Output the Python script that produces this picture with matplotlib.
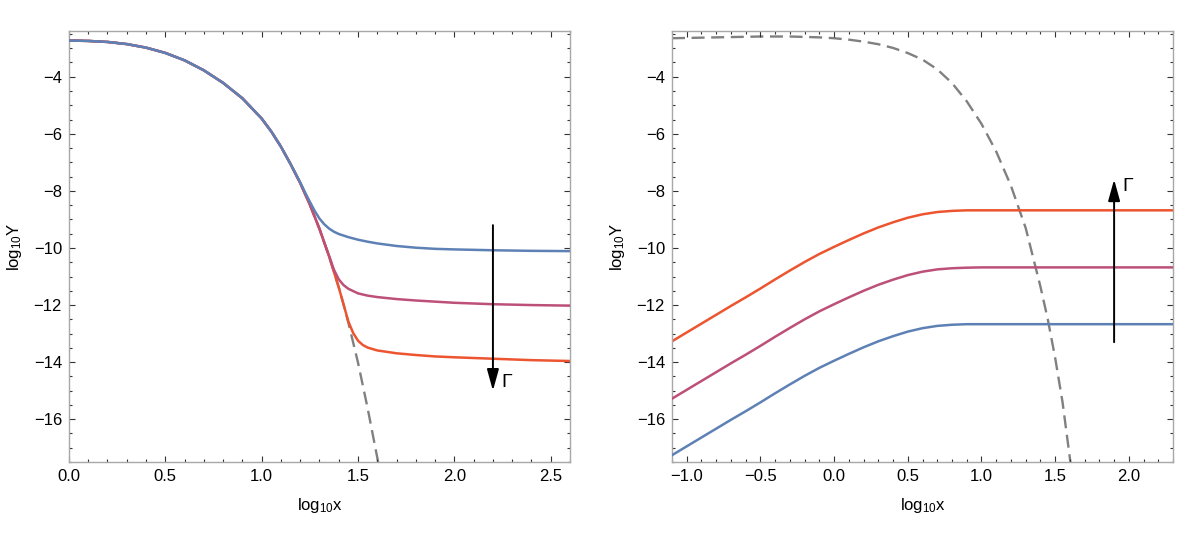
import matplotlib
matplotlib.use('Agg')
import matplotlib.pyplot as plt
from matplotlib.ticker import MultipleLocator, FuncFormatter

plt.rcParams['font.family'] = ['Liberation Sans', 'DejaVu Sans']
plt.rcParams['mathtext.default'] = 'regular'

# ---------------- data ----------------
# left panel: common decaying curve (gray dashed)
left_base_x = [0.0, 0.1, 0.2, 0.3, 0.4, 0.5, 0.6, 0.7, 0.8, 0.9, 1.0, 1.05, 1.1, 1.15,
               1.2, 1.25, 1.3, 1.35, 1.4, 1.425, 1.45, 1.5, 1.55, 1.6, 1.62]
left_base_y = [-2.73, -2.745, -2.78, -2.855, -2.98, -3.165, -3.425, -3.775, -4.215, -4.755, -5.465, -5.92,
               -6.45, -7.06, -7.725, -8.48, -9.33, -10.30, -11.38, -11.98, -12.62, -14.02, -15.62, -17.35, -18.05]

left_blue_x = [0.0, 0.1, 0.2, 0.3, 0.4, 0.5, 0.6, 0.7, 0.8, 0.9, 1.0, 1.05, 1.1, 1.15,
               1.2, 1.225, 1.25, 1.275, 1.3, 1.325, 1.35, 1.375, 1.4, 1.45, 1.5, 1.55, 1.6,
               1.7, 1.8, 1.9, 2.0, 2.2, 2.4, 2.6]
left_blue_y = [-2.73, -2.745, -2.78, -2.855, -2.98, -3.165, -3.425, -3.775, -4.215, -4.755, -5.465, -5.92,
               -6.45, -7.06, -7.70, -8.05, -8.38, -8.70, -8.97, -9.17, -9.32, -9.43, -9.51, -9.62, -9.71,
               -9.78, -9.84, -9.93, -9.99, -10.03, -10.05, -10.08, -10.10, -10.11]

left_mag_x = [0.0, 0.1, 0.2, 0.3, 0.4, 0.5, 0.6, 0.7, 0.8, 0.9, 1.0, 1.05, 1.1, 1.15,
              1.2, 1.25, 1.3, 1.35, 1.375, 1.4, 1.425, 1.45, 1.5, 1.55, 1.6,
              1.7, 1.8, 1.9, 2.0, 2.2, 2.4, 2.6]
left_mag_y = [-2.73, -2.745, -2.78, -2.855, -2.98, -3.165, -3.425, -3.775, -4.215, -4.755, -5.465, -5.92,
              -6.45, -7.06, -7.725, -8.48, -9.33, -10.28, -10.76, -11.10, -11.30, -11.43, -11.59, -11.67,
              -11.72, -11.79, -11.84, -11.88, -11.92, -11.97, -12.00, -12.02]

left_red_x = [0.0, 0.1, 0.2, 0.3, 0.4, 0.5, 0.6, 0.7, 0.8, 0.9, 1.0, 1.05, 1.1, 1.15,
              1.2, 1.25, 1.3, 1.35, 1.4, 1.425, 1.45, 1.475, 1.5, 1.525, 1.55, 1.6,
              1.7, 1.8, 1.9, 2.0, 2.2, 2.4, 2.6]
left_red_y = [-2.73, -2.745, -2.78, -2.855, -2.98, -3.165, -3.425, -3.775, -4.215, -4.755, -5.465, -5.92,
              -6.45, -7.06, -7.725, -8.48, -9.33, -10.30, -11.38, -11.98, -12.58, -12.98, -13.25, -13.40,
              -13.49, -13.59, -13.69, -13.75, -13.80, -13.83, -13.88, -13.93, -13.96]

# right panel
right_x = [-1.1, -1.0, -0.9, -0.8, -0.7, -0.6, -0.5, -0.4, -0.3, -0.2, -0.1, 0.0, 0.1, 0.2,
           0.3, 0.4, 0.5, 0.6, 0.7, 0.8, 0.9, 1.0, 1.5, 2.3]
right_red_y = [-13.27, -12.96, -12.65, -12.34, -12.03, -11.73, -11.42, -11.10, -10.79, -10.49, -10.21, -9.96,
               -9.72, -9.49, -9.28, -9.10, -8.94, -8.82, -8.74, -8.70, -8.68, -8.68, -8.68, -8.68]
right_mag_y = [-15.28, -14.97, -14.66, -14.35, -14.04, -13.74, -13.43, -13.11, -12.80, -12.50, -12.22, -11.97,
               -11.73, -11.50, -11.29, -11.11, -10.95, -10.83, -10.75, -10.71, -10.69, -10.68, -10.68, -10.68]
right_blue_y = [-17.26, -16.95, -16.64, -16.33, -16.02, -15.72, -15.41, -15.09, -14.78, -14.48, -14.20, -13.95,
                -13.71, -13.48, -13.27, -13.09, -12.93, -12.81, -12.73, -12.69, -12.67, -12.67, -12.67, -12.67]

right_dash_x = [-1.1, -0.9, -0.7, -0.5, -0.3, -0.1, 0.0, 0.1, 0.2, 0.3, 0.4, 0.5, 0.6, 0.7, 0.8, 0.9,
                1.0, 1.1, 1.2, 1.3, 1.4, 1.45, 1.5, 1.55, 1.6, 1.62]
right_dash_y = [-2.65, -2.63, -2.61, -2.59, -2.59, -2.62, -2.65, -2.70, -2.77, -2.86, -2.99, -3.17, -3.40,
                -3.74, -4.22, -4.86, -5.65, -6.62, -7.82, -9.30, -11.35, -12.50, -13.85, -15.40, -17.37, -18.20]

# arrows: (x, y_start, y_end)
left_arrow = (2.2, -9.2, -15.0)
right_arrow = (1.9, -13.3, -7.6)
left_gamma = (2.245, -14.7)
right_gamma = (1.955, -7.85)

xlabel = r'log$_{10}$x'
ylabel = r'log$_{10}$Y'

# ---------------- styling ----------------
BLUE = '#5E81B5'
MAG = '#BC5079'
RED = '#EC5530'
GRAY = '#808080'
FRAME = '#a8a8a8'

fig = plt.figure(figsize=(11.97, 5.36), dpi=100)
ax1 = fig.add_axes([0.0576, 0.138, 0.4186, 0.804])
ax2 = fig.add_axes([0.5614, 0.138, 0.4186, 0.804])

LW = 1.8
DASH = (0, (5.5, 2.8))

ax1.plot(left_base_x, left_base_y, color=GRAY, lw=1.7, ls=DASH, zorder=1)
ax1.plot(left_red_x, left_red_y, color=RED, lw=LW, zorder=2)
ax1.plot(left_mag_x, left_mag_y, color=MAG, lw=LW, zorder=3)
ax1.plot(left_blue_x, left_blue_y, color=BLUE, lw=LW, zorder=4)

ax2.plot(right_dash_x, right_dash_y, color=GRAY, lw=1.7, ls=DASH, zorder=1)
ax2.plot(right_x, right_red_y, color=RED, lw=LW, zorder=2)
ax2.plot(right_x, right_mag_y, color=MAG, lw=LW, zorder=3)
ax2.plot(right_x, right_blue_y, color=BLUE, lw=LW, zorder=4)

astyle = dict(arrowstyle='-|>,head_length=0.65,head_width=0.18', color='black', lw=1.4,
              mutation_scale=20, shrinkA=0, shrinkB=0)
ax1.annotate('', xy=(left_arrow[0], left_arrow[2]), xytext=(left_arrow[0], left_arrow[1]),
             arrowprops=astyle, zorder=6)
ax2.annotate('', xy=(right_arrow[0], right_arrow[2]), xytext=(right_arrow[0], right_arrow[1]),
             arrowprops=astyle, zorder=6)
ax1.text(left_gamma[0], left_gamma[1], 'Γ', fontsize=14, ha='left', va='center')
ax2.text(right_gamma[0], right_gamma[1], 'Γ', fontsize=14, ha='left', va='center')


def fmt_x(v, p):
    s = '%.1f' % abs(v)
    return ('\u2212' + s) if v < -1e-9 else s


def fmt_y(v, p):
    return ('\u2212%d' % abs(round(v))) if v < 0 else '%d' % round(v)


ax1.set_xlim(0, 2.6)
ax2.set_xlim(-1.1, 2.3)
for ax in (ax1, ax2):
    ax.set_ylim(-17.5, -2.4)
    ax.xaxis.set_major_locator(MultipleLocator(0.5))
    ax.xaxis.set_minor_locator(MultipleLocator(0.1))
    ax.yaxis.set_major_locator(MultipleLocator(2))
    ax.yaxis.set_minor_locator(MultipleLocator(0.5))
    ax.xaxis.set_major_formatter(FuncFormatter(fmt_x))
    ax.yaxis.set_major_formatter(FuncFormatter(fmt_y))
    ax.tick_params(which='both', direction='in', top=True, right=True, color='#333333',
                   labelsize=12, width=0.8)
    ax.tick_params(which='major', length=4, pad=5)
    ax.tick_params(which='minor', length=2.2)
    for s in ax.spines.values():
        s.set_color(FRAME)
        s.set_linewidth(1.0)
    ax.set_xlabel(xlabel, fontsize=12, labelpad=9)
    ax.set_ylabel(ylabel, fontsize=12, labelpad=7)

fig.savefig('out.png', dpi=100)
